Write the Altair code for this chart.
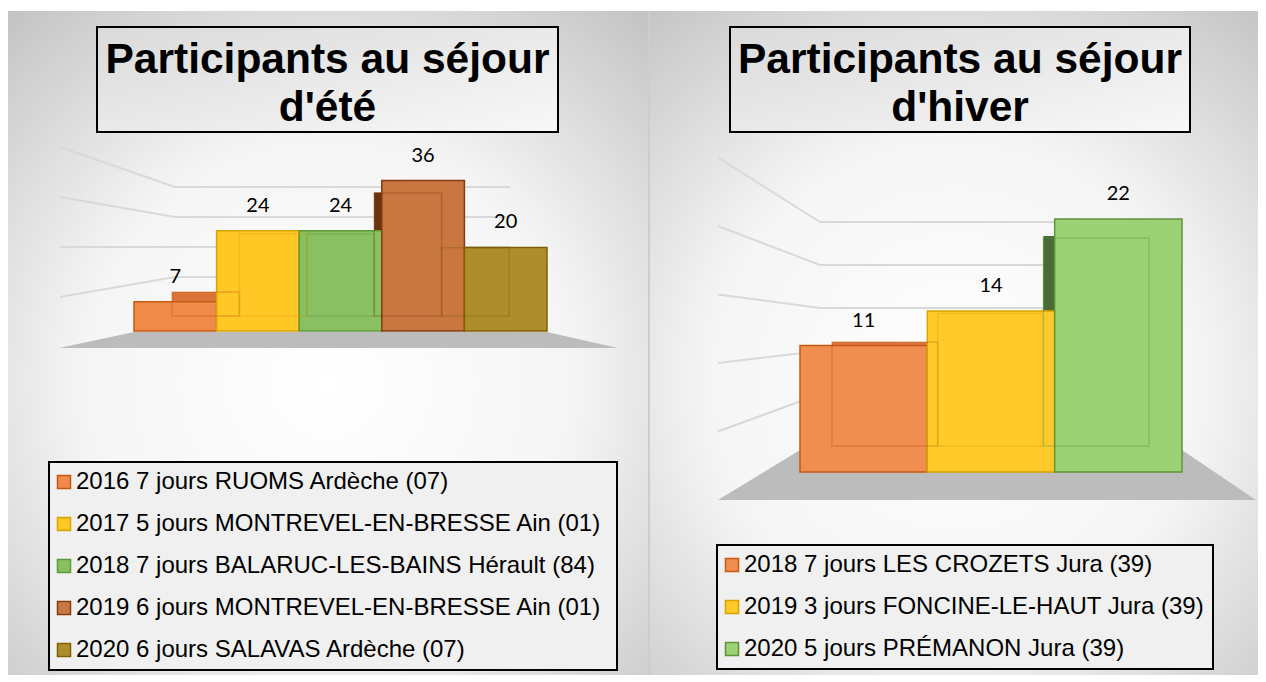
import altair as alt
import pandas as pd

# ---------------- data ----------------
summer_title = ["Participants au séjour", "d'été"]
summer_labels = [
    "2016 7 jours RUOMS Ardèche (07)",
    "2017 5  jours MONTREVEL-EN-BRESSE Ain (01)",
    "2018 7 jours BALARUC-LES-BAINS Hérault (84)",
    "2019 6 jours MONTREVEL-EN-BRESSE Ain (01)",
    "2020 6 jours SALAVAS Ardèche (07)",
]
summer_values = [7, 24, 24, 36, 20]
summer_grid = [10, 20, 30, 40]

winter_title = ["Participants au séjour", "d'hiver"]
winter_labels = [
    "2018 7 jours LES CROZETS Jura (39)",
    "2019 3 jours FONCINE-LE-HAUT Jura (39)",
    "2020 5 jours PRÉMANON Jura (39)",
]
winter_values = [11, 14, 22]
winter_grid = [5, 10, 15, 20, 25]

# ---------------- styles ----------------
summer_colors = dict(
    front=["#F08A4B", "#FFC825", "#88C062", "#C97640", "#AE8E2C"],
    edge=["#C55A11", "#D9A400", "#5E9A3A", "#843C0C", "#7F6000"],
    top=["#D9733A", "#E8B000", "#76AD50", "#B0602C", "#9A7C20"],
    side=["#8A3F12", "#8F6E00", "#3F6A28", "#6B3210", "#5C4A10"],
)
winter_colors = dict(
    front=["#F08E50", "#FFCB2B", "#9CD275"],
    edge=["#C55A11", "#D9A400", "#5F9438"],
    top=["#DA7740", "#EDB300", "#86BE5E"],
    side=["#8A3F12", "#8F6E00", "#4A6B35"],
)

summer_geom = dict(
    W=642, bgW=640, H=664, ymax=40,
    title_box=(89, 16, 550, 121), title_cx=319.5, title_y=62,
    front_x=[126, 539], front_y=[320, 152.8],
    back_x=[164, 501], back_y=[305, 168.3], side_dy=12,
    grid_xo=52, grid_xc=167, grid_xr=502, grid_back=(296, 176), grid_outer=(336, 136),
    floor=([51, 126, 539, 610], [337, 321, 321, 337], 337),
    legend=(41, 451),
)
winter_geom = dict(
    W=608, bgW=608, H=664, ymax=25,
    title_box=(80, 16, 540, 121), title_cx=310, title_y=62,
    front_x=[150, 532], front_y=[461, 173.5],
    back_x=[182, 499], back_y=[435, 198.6], side_dy=17,
    grid_xo=68, grid_xc=170, grid_xr=512, grid_back=(426, 211), grid_outer=(489, 146.5),
    floor=([68, 150, 532, 606], [489, 439, 439, 489], 489),
    legend=(67, 534),
)

BG = {
    "gradient": "radial", "x1": 0.5, "y1": 0.56, "r1": 0, "x2": 0.5, "y2": 0.56, "r2": 0.74,
    "stops": [
        {"offset": 0, "color": "#ffffff"},
        {"offset": 0.5, "color": "#f5f5f5"},
        {"offset": 1, "color": "#c3c3c3"},
    ],
}
TITLE_BG = {
    "gradient": "linear", "x1": 0, "y1": 0, "x2": 1, "y2": 1,
    "stops": [{"offset": 0, "color": "#dadada"}, {"offset": 1, "color": "#f8f8f8"}],
}


def make_legend(**kw):
    try:
        return alt.Legend(**kw)
    except Exception:
        kw.pop("symbolOffset", None)
        return alt.Legend(**kw)


def panel(title, labels, values, grid, colors, g, divider):
    n = len(labels)
    df = pd.DataFrame({"label": labels, "value": values})
    df["i0"] = range(n)
    df["i1"] = df["i0"] + 1
    df["ic"] = df["i0"] + 0.5
    one = pd.DataFrame({"k": [0]})
    base = alt.Chart(df)

    def sc(domain, rng):
        return alt.Scale(domain=domain, range=rng, zero=False, nice=False)

    fx = sc([0, n], g["front_x"])
    fy = sc([0, g["ymax"]], g["front_y"])
    bx = sc([0, n], g["back_x"])
    by = sc([0, g["ymax"]], g["back_y"])

    def cscale(key):
        return alt.Scale(domain=labels, range=colors[key])

    layers = []
    # panel background
    layers.append(
        alt.Chart(one).mark_rect(fill=BG, strokeWidth=0).encode(
            x=alt.value(0), x2=alt.value(g["bgW"]), y=alt.value(0), y2=alt.value(g["H"])
        )
    )
    if divider:
        layers.append(
            alt.Chart(one).mark_rect(fill="#cdcdcd", strokeWidth=0).encode(
                x=alt.value(g["bgW"]), x2=alt.value(g["W"]), y=alt.value(0), y2=alt.value(g["H"])
            )
        )
    # grid lines (back wall + side wall)
    gdf = pd.DataFrame({"v": grid})
    b0, b1 = g["grid_back"]
    o0, o1 = g["grid_outer"]
    ym = g["ymax"]
    gbase = alt.Chart(gdf).transform_calculate(
        yb=f"{b0} + ({b1} - {b0}) * datum.v / {ym}",
        yo=f"{o0} + ({o1} - {o0}) * datum.v / {ym}",
    )
    layers.append(
        gbase.mark_rule(color="#d9d9d9", strokeWidth=2).encode(
            x=alt.value(g["grid_xc"]), x2=alt.value(g["grid_xr"]),
            y=alt.Y("yb:Q", scale=None),
        )
    )
    layers.append(
        gbase.mark_rule(color="#d9d9d9", strokeWidth=2).encode(
            x=alt.value(g["grid_xo"]), x2=alt.value(g["grid_xc"]),
            y=alt.Y("yo:Q", scale=None), y2="yb:Q",
        )
    )
    # floor
    fxs, fys, fbot = g["floor"]
    floor_df = pd.DataFrame({"x": fxs, "yt": fys, "yb": [fbot] * len(fxs)})
    layers.append(
        alt.Chart(floor_df).mark_area(color="#bcbcbc", strokeWidth=0).encode(
            x=alt.X("x:Q", scale=None), y=alt.Y("yt:Q", scale=None), y2="yb:Q"
        )
    )
    # back face (top face colour)
    layers.append(
        base.mark_rect(strokeWidth=0).encode(
            x=alt.X("i0:Q", scale=bx, axis=None), x2="i1:Q",
            y=alt.Y("value:Q", scale=by, axis=None), y2=alt.datum(0),
            fill=alt.Fill("label:N", scale=cscale("top"), legend=None),
        )
    )
    # side face (dark)
    layers.append(
        base.mark_rect(strokeWidth=0, yOffset=g["side_dy"]).encode(
            x=alt.X("i0:Q", scale=bx, axis=None), x2="i1:Q",
            y=alt.Y("value:Q", scale=fy, axis=None), y2=alt.datum(0),
            fill=alt.Fill("label:N", scale=cscale("side"), legend=None),
        )
    )
    # front faces with legend
    leg = dict(
        title=None, orient="none", legendX=g["legend"][0], legendY=g["legend"][1],
        symbolType="square", symbolSize=169, symbolStrokeWidth=1.5, symbolOffset=-5,
        labelFont="Liberation Sans", labelFontSize=24, labelColor="black", labelLimit=800,
        labelOffset=0, rowPadding=18, padding=8, strokeColor="black", fillColor="#f0f0f0",
    )
    layers.append(
        base.mark_rect(strokeWidth=1.5).encode(
            x=alt.X("i0:Q", scale=fx, axis=None), x2="i1:Q",
            y=alt.Y("value:Q", scale=fy, axis=None), y2=alt.datum(0),
            fill=alt.Fill("label:N", scale=cscale("front"), legend=make_legend(**leg)),
            stroke=alt.Stroke("label:N", scale=cscale("edge"), legend=make_legend(**leg)),
        )
    )
    # inner (back) edges seen through
    layers.append(
        base.mark_rect(fillOpacity=0, strokeWidth=1.5, strokeOpacity=0.35).encode(
            x=alt.X("i0:Q", scale=bx, axis=None), x2="i1:Q",
            y=alt.Y("value:Q", scale=by, axis=None), y2=alt.datum(0),
            stroke=alt.Stroke("label:N", scale=cscale("edge"), legend=None),
        )
    )
    # value labels
    layers.append(
        base.mark_text(font="Lato", fontSize=20, dy=-25, baseline="middle", color="black").encode(
            x=alt.X("ic:Q", scale=fx, axis=None),
            y=alt.Y("value:Q", scale=fy, axis=None),
            text=alt.Text("value:Q"),
        )
    )
    # title box
    tx0, ty0, tx1, ty1 = g["title_box"]
    layers.append(
        alt.Chart(one).mark_rect(fill=TITLE_BG, stroke="black", strokeWidth=2).encode(
            x=alt.value(tx0), x2=alt.value(tx1), y=alt.value(ty0), y2=alt.value(ty1)
        )
    )
    layers.append(
        alt.Chart(one).mark_text(
            font="Liberation Sans", fontSize=42.5, fontWeight="bold", align="center",
            baseline="alphabetic", lineHeight=48, color="black",
        ).encode(x=alt.value(g["title_cx"]), y=alt.value(g["title_y"]), text=alt.value(title))
    )
    return (
        alt.layer(*layers)
        .resolve_scale(x="independent", y="independent", fill="independent", stroke="independent")
        .properties(width=g["W"], height=g["H"])
    )


left = panel(summer_title, summer_labels, summer_values, summer_grid, summer_colors, summer_geom, True)
right = panel(winter_title, winter_labels, winter_values, winter_grid, winter_colors, winter_geom, False)


def build(with_legend_stroke):
    ch = (
        alt.hconcat(left, right, spacing=0, padding={"left": 0, "top": 3, "right": 0, "bottom": 0},
                    background="white")
        .resolve_scale(fill="independent", stroke="independent")
        .configure_view(strokeWidth=0)
    )
    if with_legend_stroke:
        ch = ch.configure_legend(strokeWidth=2)
    return ch


try:
    chart = build(True)
    chart.to_dict()
except Exception:
    chart = build(False)

chart.save("out.html", embed_options={"renderer": "svg", "actions": False})
